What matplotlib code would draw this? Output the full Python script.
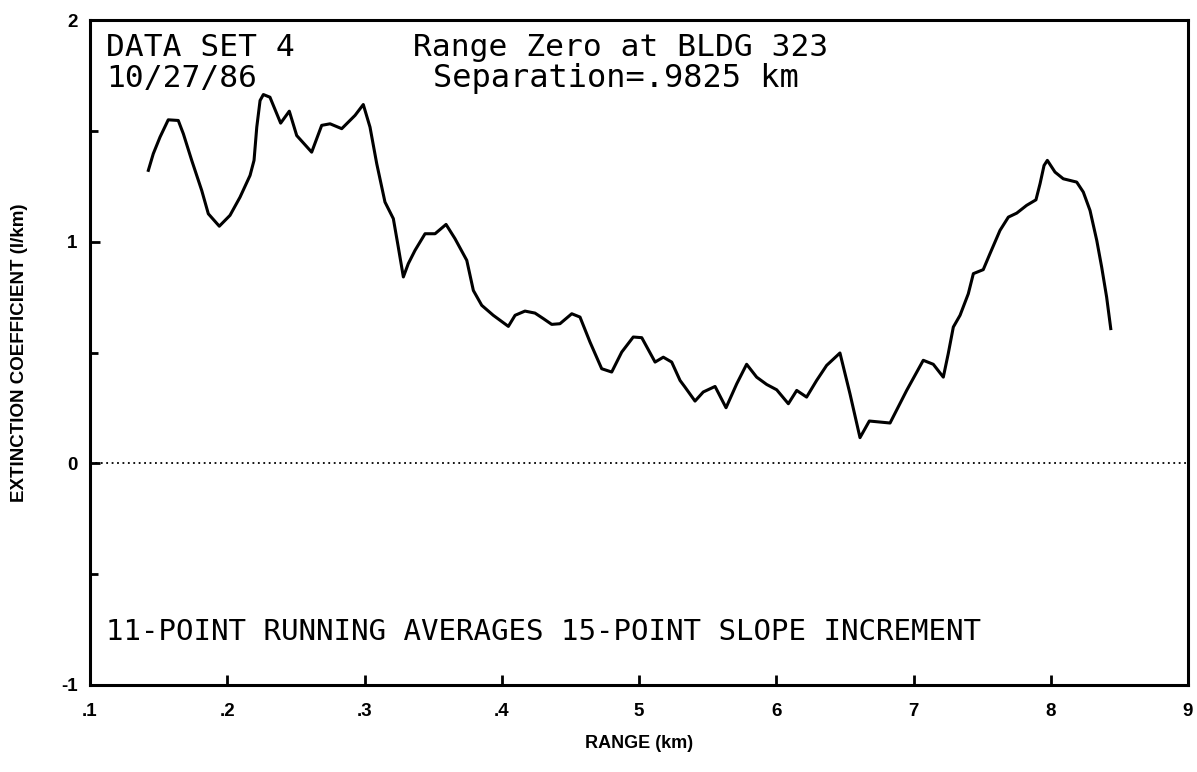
import matplotlib.pyplot as plt
import numpy as np

# extinction coefficient vs range, data set 4
range_km = [1.425, 1.461, 1.510, 1.570, 1.643, 1.680, 1.741, 1.814, 1.862, 1.942,
            2.020, 2.093, 2.166, 2.195, 2.215, 2.239, 2.263, 2.311, 2.389, 2.452,
            2.506, 2.615, 2.688, 2.749, 2.834, 2.931, 2.991, 3.040, 3.089, 3.149,
            3.210, 3.246, 3.283, 3.319, 3.368, 3.441, 3.514, 3.594, 3.659, 3.745,
            3.793, 3.854, 3.938, 4.048, 4.097, 4.169, 4.242, 4.303, 4.364, 4.424,
            4.510, 4.570, 4.643, 4.728, 4.801, 4.874, 4.958, 5.020, 5.117, 5.177,
            5.238, 5.299, 5.335, 5.408, 5.468, 5.554, 5.634, 5.712, 5.784, 5.857,
            5.930, 6.003, 6.088, 6.149, 6.221, 6.294, 6.367, 6.464, 6.537, 6.610,
            6.678, 6.829, 6.950, 7.071, 7.144, 7.217, 7.253, 7.290, 7.339, 7.399,
            7.436, 7.508, 7.557, 7.630, 7.691, 7.752, 7.824, 7.892, 7.922, 7.951,
            7.975, 8.031, 8.091, 8.189, 8.237, 8.286, 8.335, 8.371, 8.407, 8.437]
ext_coef = [1.322, 1.397, 1.472, 1.550, 1.547, 1.487, 1.367, 1.231, 1.126, 1.070,
            1.119, 1.201, 1.299, 1.367, 1.517, 1.637, 1.664, 1.652, 1.535, 1.589,
            1.479, 1.404, 1.525, 1.532, 1.510, 1.570, 1.619, 1.517, 1.352, 1.179,
            1.104, 0.976, 0.841, 0.901, 0.961, 1.036, 1.036, 1.078, 1.014, 0.916,
            0.780, 0.713, 0.668, 0.618, 0.668, 0.687, 0.678, 0.653, 0.627, 0.630,
            0.675, 0.660, 0.547, 0.427, 0.412, 0.502, 0.570, 0.567, 0.457, 0.479,
            0.457, 0.374, 0.344, 0.281, 0.322, 0.347, 0.251, 0.359, 0.447, 0.389,
            0.356, 0.332, 0.269, 0.329, 0.299, 0.374, 0.442, 0.498, 0.314, 0.116,
            0.191, 0.182, 0.329, 0.465, 0.447, 0.389, 0.495, 0.615, 0.668, 0.765,
            0.856, 0.874, 0.946, 1.051, 1.111, 1.129, 1.164, 1.189, 1.262, 1.344,
            1.367, 1.314, 1.284, 1.269, 1.224, 1.141, 1.006, 0.885, 0.750, 0.608]

x_ticks = [1, 2, 3, 4, 5, 6, 7, 8, 9]
x_ticklabels = ['.1', '.2', '.3', '.4', '5', '6', '7', '8', '9']
y_ticks = [-1, 0, 1, 2]
y_ticklabels = ['-1', '0', '1', '2']

fig = plt.figure(figsize=(11.97, 7.72), dpi=100)
ax = fig.add_axes([0.0752, 0.1127, 0.9173, 0.8613])

ax.plot(range_km, ext_coef, color='black', linewidth=2.2)
ax.axhline(0, color='black', linestyle=(0, (1, 2)), linewidth=1.3)

ax.set_xlim(1, 9)
ax.set_ylim(-1, 2)

lbl_font = {'family': 'Liberation Sans', 'weight': 'bold'}
ax.set_xticks(x_ticks)
ax.set_xticklabels(x_ticklabels, fontsize=13.5, **lbl_font)
ax.set_yticks(y_ticks)
ax.set_yticklabels(y_ticklabels, fontsize=13.5, **lbl_font)
ax.set_yticks([-0.5, 0.5, 1.5], minor=True)
ax.tick_params(axis='both', which='both', direction='in', width=2, color='black')
ax.tick_params(axis='x', length=7, pad=13)
ax.tick_params(axis='y', which='major', length=7, pad=9)
ax.tick_params(axis='y', which='minor', length=6)

for s in ax.spines.values():
    s.set_linewidth(2.2)

ax.set_xlabel('RANGE (km)', fontsize=13, labelpad=11, **lbl_font)
ax.set_ylabel('EXTINCTION COEFFICIENT (l/km)', fontsize=13.5, labelpad=24, **lbl_font)

# plotter annotations
mono = {'family': 'DejaVu Sans Mono', 'color': 'black', 'va': 'center', 'ha': 'left'}
ax.text(0.015, 0.959, 'DATA SET 4', transform=ax.transAxes, fontsize=22.5, **mono)
ax.text(0.015, 0.912, '10/27/86', transform=ax.transAxes, fontsize=22.5, **mono)
ax.text(0.294, 0.959, 'Range Zero at BLDG 323', transform=ax.transAxes, fontsize=22.5, **mono)
ax.text(0.312, 0.912, 'Separation=.9825 km', transform=ax.transAxes, fontsize=23, **mono)
ax.text(0.015, 0.08, '11-POINT RUNNING AVERAGES 15-POINT SLOPE INCREMENT',
        transform=ax.transAxes, fontsize=21, **mono)

fig.savefig('out.png', dpi=100)
